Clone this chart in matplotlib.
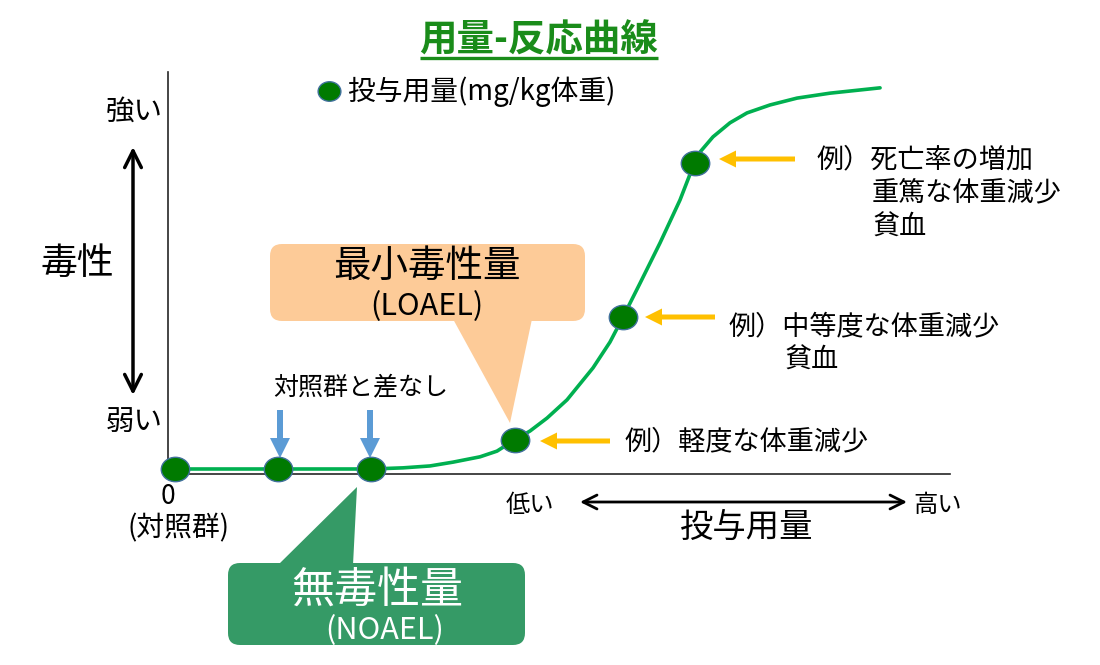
import matplotlib
matplotlib.use('Agg')
import matplotlib.pyplot as plt
from matplotlib.patches import FancyBboxPatch, Polygon, FancyArrow
from matplotlib.path import Path
from matplotlib.transforms import Affine2D

plt.rcParams['font.family'] = ['Noto Sans CJK JP', 'DejaVu Sans']

# ---------------- data ----------------
dose_levels = [0.0, 1.0, 1.9, 3.3, 4.35, 5.05]
toxicity = [0.0, 0.0, 0.0, 0.076, 0.40, 0.805]

curve_dose = [0.0, 1.913, 2.214, 2.476, 2.699, 2.961, 3.126, 3.282, 3.447, 3.612,
              3.806, 4.058, 4.223, 4.350, 4.515, 4.709, 4.903, 5.039, 5.097, 5.223,
              5.388, 5.553, 5.777, 6.039, 6.359, 6.845]
curve_tox = [0.0, 0.0, 0.003, 0.008, 0.018, 0.032, 0.047, 0.074, 0.100, 0.134,
             0.182, 0.266, 0.334, 0.400, 0.489, 0.595, 0.708, 0.803, 0.834, 0.874,
             0.911, 0.937, 0.958, 0.976, 0.989, 1.003]

title = '用量-反応曲線'
legend_label = '投与用量(mg/kg体重)'
y_high, y_low, y_name = '強い', '弱い', '毒性'
x_low, x_high, x_name = '低い', '高い', '投与用量'
zero_label, control_label = '0', '(対照群)'
nodiff_label = '対照群と差なし'
loael_label, loael_abbr = '最小毒性量', '(LOAEL)'
noael_label, noael_abbr = '無毒性量', '(NOAEL)'
effect_low = ['例）軽度な体重減少']
effect_mid = ['例）中等度な体重減少', '貧血']
effect_high = ['例）死亡率の増加', '重篤な体重減少', '貧血']

# ---------------- figure ----------------
W, H = 1100, 665
fig = plt.figure(figsize=(11, 6.65), dpi=100)
ov = fig.add_axes([0, 0, 1, 1], zorder=0)
ov.set_xlim(0, W)
ov.set_ylim(H, 0)
ov.axis('off')

dax = fig.add_axes([168 / W, 1 - 474 / H, (950 - 168) / W, (474 - 72) / H], zorder=1)
dax.patch.set_alpha(0)
dax.set_xlim(-0.068, 7.524)
dax.set_ylim(-0.0132, 1.0447)
for s in ['top', 'right']:
    dax.spines[s].set_visible(False)
for s in ['left', 'bottom']:
    dax.spines[s].set_color('#262626')
    dax.spines[s].set_linewidth(1.2)
dax.set_xticks([])
dax.set_yticks([])

dax.plot(curve_dose, curve_tox, color='#00B050', lw=2.6, solid_capstyle='round',
         solid_joinstyle='round', zorder=2, clip_on=False)
ell = Path.unit_circle().transformed(Affine2D().scale(1.0, 24 / 28))
pts, = dax.plot(dose_levels, toxicity, ls='none', marker=ell, ms=20.5,
                mfc='#007A00', mec='#41719C', mew=1.0, clip_on=False, zorder=3,
                label=legend_label)
dax.legend(handles=[pts], loc='center left', bbox_to_anchor=(315 / W, 1 - 92 / H),
           bbox_transform=fig.transFigure, frameon=False, fontsize=20,
           handletextpad=0.15, markerscale=0.8, borderpad=0, handlelength=1.0,
           borderaxespad=0)

# title
t = ov.text(539, 40, title, fontsize=27, fontweight='bold', color='#1A8C1A',
            ha='center', va='center')
fig.canvas.draw()
bb = t.get_window_extent(renderer=fig.canvas.get_renderer())
inv = ov.transData.inverted()
(x0, _), (x1, _) = inv.transform([(bb.x0, bb.y0), (bb.x1, bb.y0)])
ov.plot([x0, x1], [58, 58], color='#1A8C1A', lw=2.4, solid_capstyle='butt')

# y-axis annotations
ov.text(134, 112, y_high, fontsize=20.5, ha='center', va='center')
ov.text(134, 423, y_low, fontsize=20.5, ha='center', va='center')
ov.text(77, 263, y_name, fontsize=26.5, ha='center', va='center')
ov.annotate('', xy=(133, 147), xytext=(133, 395),
            arrowprops=dict(arrowstyle='<->,head_length=0.6,head_width=0.3',
                            lw=2.5, color='black', shrinkA=0, shrinkB=0,
                            mutation_scale=20))

# x-axis annotations
ov.text(168, 497, zero_label, fontsize=19, ha='center', va='center')
ov.text(178, 528, control_label, fontsize=20, ha='center', va='center')
ov.text(530, 505, x_low, fontsize=17.5, ha='center', va='center')
ov.text(938, 505, x_high, fontsize=17.5, ha='center', va='center')
ov.text(747, 527, x_name, fontsize=24, ha='center', va='center')
ov.annotate('', xy=(580, 502), xytext=(907, 502),
            arrowprops=dict(arrowstyle='<->,head_length=0.5,head_width=0.25',
                            lw=2.0, color='black', shrinkA=0, shrinkB=0,
                            mutation_scale=20))

# no-difference arrows
ov.text(361, 387, nodiff_label, fontsize=18, ha='center', va='center')
for x in (280, 370):
    ov.add_patch(FancyArrow(x, 410, 0, 48, width=6, head_width=20, head_length=20,
                            length_includes_head=True, color='#5B9BD5', lw=0))

# effect arrows and texts
for (tail, tip, y) in [(610, 540, 441), (715, 645, 317), (795, 719, 159)]:
    ov.add_patch(FancyArrow(tail, y, tip - tail, 0, width=5, head_width=17,
                            head_length=17, length_includes_head=True,
                            color='#FFC000', lw=0))
fs_e = 19.5
ov.text(625, 442, effect_low[0], fontsize=fs_e, ha='left', va='center')
ov.text(729, 327, effect_mid[0], fontsize=fs_e, ha='left', va='center')
ov.text(784, 360, effect_mid[1], fontsize=fs_e, ha='left', va='center')
ov.text(817, 160, effect_high[0], fontsize=fs_e, ha='left', va='center')
ov.text(872, 193, effect_high[1], fontsize=fs_e, ha='left', va='center')
ov.text(872, 227, effect_high[2], fontsize=fs_e, ha='left', va='center')

# LOAEL callout
c_lo = '#FDCB98'
ov.add_patch(FancyBboxPatch((270, 244), 315, 77, boxstyle='round,pad=0,rounding_size=12',
                            fc=c_lo, ec='none'))
ov.add_patch(Polygon([(453, 319), (532, 319), (510, 423)], closed=True, fc=c_lo, ec='none'))
ov.text(427, 266, loael_label, fontsize=27, ha='center', va='center')
ov.text(427, 307, loael_abbr, fontsize=22, ha='center', va='center')

# NOAEL callout
c_no = '#359A66'
ov.add_patch(FancyBboxPatch((228, 563), 297, 82, boxstyle='round,pad=0,rounding_size=12',
                            fc=c_no, ec='none'))
ov.add_patch(Polygon([(278, 565), (353, 565), (357, 487)], closed=True, fc=c_no, ec='none'))
ov.text(377, 591, noael_label, fontsize=31, ha='center', va='center', color='white')
ov.text(385, 631, noael_abbr, fontsize=22, ha='center', va='center', color='white')

fig.savefig('out.png', dpi=100)
